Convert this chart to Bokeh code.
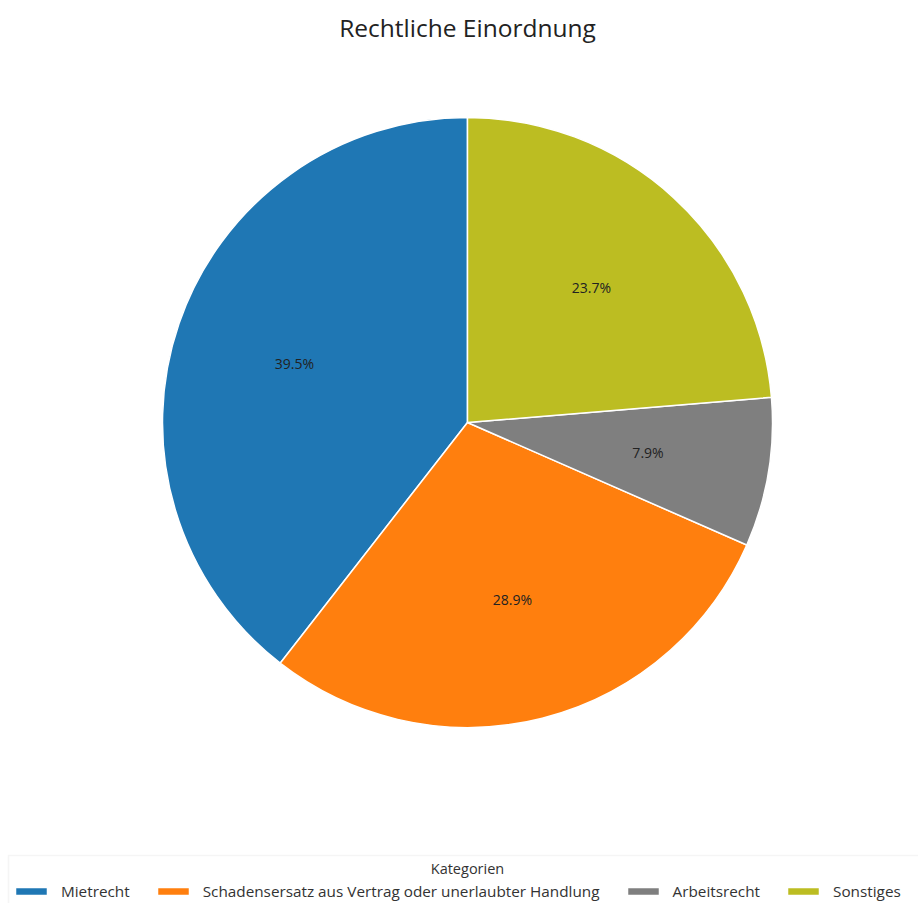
import numpy as np
from bokeh.plotting import figure
from bokeh.models import Range1d, Legend, LegendItem, Label, BoxAnnotation, ColumnDataSource
from bokeh.core.properties import value
from bokeh.embed import file_html
from bokeh.resources import INLINE

title = "Rechtliche Einordnung"
categories = ["Mietrecht", "Schadensersatz aus Vertrag oder unerlaubter Handlung", "Arbeitsrecht", "Sonstiges"]
counts = [15, 11, 3, 9]
colors = ["#1f77b4", "#ff7f0e", "#7f7f7f", "#bcbd22"]
legend_title = "Kategorien"

FONT = "Open Sans"
W, H = 918, 903
cx, cy, R = 467, H - 422, 305

p = figure(width=W, height=H, output_backend="svg", toolbar_location=None,
           x_range=Range1d(0, W), y_range=Range1d(0, H), min_border=0)
p.axis.visible = False
p.grid.visible = False
p.outline_line_color = None

vals = np.array(counts, dtype=float)
frac = vals / vals.sum()
ang = frac * 2 * np.pi
start = np.pi / 2 + np.concatenate([[0], np.cumsum(ang)[:-1]])
end = start + ang
mid = (start + end) / 2
pct = [f"{f*100:.1f}%" for f in frac]

src = ColumnDataSource(dict(cat=categories, start=start, end=end, color=colors,
                            lx=cx + 0.6 * R * np.cos(mid), ly=cy + 0.6 * R * np.sin(mid), pct=pct))
r = p.wedge(x=cx, y=cy, radius=R, start_angle="start", end_angle="end", direction="anticlock",
            fill_color="color", line_color="white", line_width=1.5, source=src)
p.text(x="lx", y="ly", text="pct", source=src, text_align="center", text_baseline="middle",
       text_font=value(FONT), text_font_size="14px", text_color="#222222")

p.add_layout(Label(x=W / 2 + 8, y=H - 27, text=title, text_align="center", text_baseline="middle",
                   text_font=FONT, text_font_size="24.5px", text_color="#222222"))

p.add_layout(BoxAnnotation(left=8, right=W + 20, bottom=-5, top=H - 855,
                           fill_color="white", fill_alpha=1, line_color="#dddddd", line_width=1.5))
p.add_layout(Label(x=W / 2 + 8, y=H - 868, text=legend_title, text_align="center", text_baseline="middle",
                   text_font=FONT, text_font_size="14.5px", text_color="#333333"))

items = [LegendItem(label=c, renderers=[r], index=i) for i, c in enumerate(categories)]
leg = Legend(items=items, orientation="horizontal", location=(11, 2), padding=0, margin=0,
             spacing=23, glyph_width=40, glyph_height=10, label_standoff=10, label_height=20,
             label_text_font=FONT, label_text_font_size="15.3px", label_text_color="#333333",
             border_line_color=None, background_fill_alpha=0)
p.add_layout(leg, "center")

open("out.html", "w").write(file_html(p, INLINE))
